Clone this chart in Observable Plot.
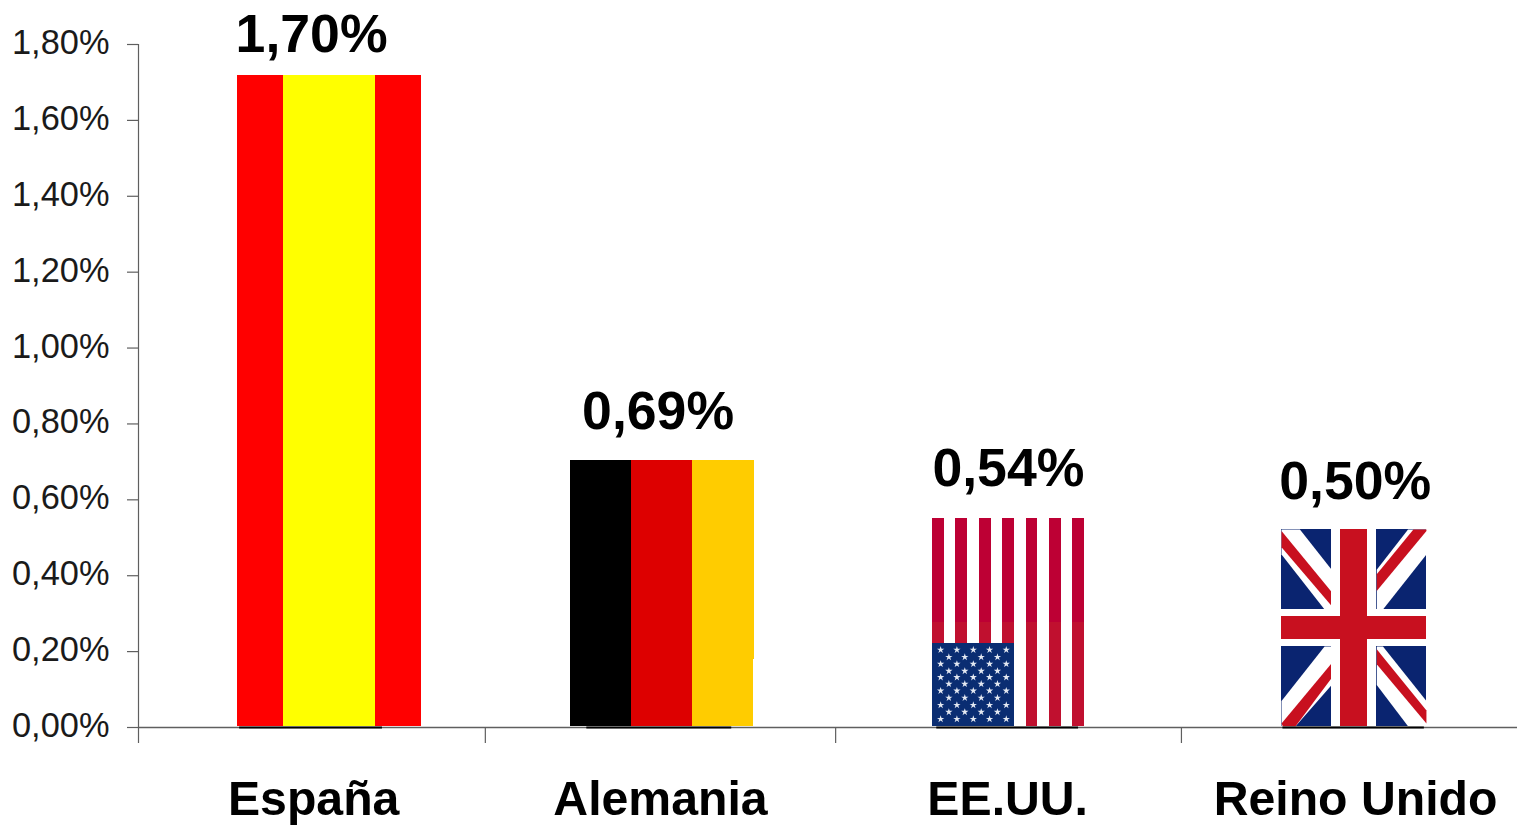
<!DOCTYPE html>
<html lang="es">
<head>
<meta charset="utf-8">
<style>html,body{margin:0;padding:0;background:#fff;overflow:hidden}svg{font-kerning:none}</style>
<script src="https://cdn.jsdelivr.net/npm/d3@7"></script>
<script src="https://cdn.jsdelivr.net/npm/@observablehq/plot@0.6"></script>
</head>
<body>
<div id="chart"></div>
<script>
// Categories and values
const countries = ["España", "Alemania", "EE.UU.", "Reino Unido"];
const values = [1.70, 0.69, 0.54, 0.50];
const yTicks = [0, 0.2, 0.4, 0.6, 0.8, 1.0, 1.2, 1.4, 1.6, 1.8];
const xTicks = [0, 0.998, 2.006, 3.001];

// Position of each category on the band axis (one unit = one category)
const countryCenter = [0.504, 1.502, 2.501, 3.502];
const labelCenter = [0.498, 1.495, 2.503, 3.501];
const labelBase = [1.781, 0.786, 0.636, 0.601];
const flagLeft = [0.285, 1.243, 2.285, 3.289];
const flagRight = [0.814, 1.773, 2.722, 3.706];
const flagTop = [1.718, 0.704, 0.551, 0.522];
const flagBottom = 0.003;
const baseLeft = [0.291, 1.290, 2.297, 3.293];
const baseRight = [0.702, 1.707, 2.705, 3.700];

// Flag designs, in fractions of each flag (u across, v down from top)
const spainStripes = [[0, 0.25, "#ff0000"], [0.25, 0.75, "#ffff00"], [0.75, 1, "#ff0000"]];
const germanyUpper = [[0, 0.334, "#000000"], [0.334, 0.665, "#dd0000"], [0.665, 1, "#ffcc00"]];
const germanyLower = [[0, 0.329, "#000000"], [0.329, 0.660, "#dd0000"], [0.660, 0.995, "#ffcc00"]];
const usaStripeCount = [0, 1, 2, 3, 4, 5, 6, 7, 8, 9, 10, 11, 12];
const usaCanton = {u: 7 / 13, v: 0.6};
const starRows = [0.632, 0.667, 0.700, 0.734, 0.764, 0.796, 0.829, 0.863, 0.898, 0.931, 0.965];
const starColsA = [0.053, 0.160, 0.268, 0.375, 0.485];
const starColsB = [0.107, 0.212, 0.320, 0.427];

const ukBlue = "#0a2470", ukRed = "#c8101f";
const ukPolygons = [
  ["#ffffff", [[0, 0], [0.127, 0], [0.346, 0.205], [0.346, 0.406], [0.297, 0.406], [0, 0.127]]],
  ["#ffffff", [[0.873, 0], [1, 0], [1, 0.127], [0.70, 0.406], [0.657, 0.406], [0.657, 0.205]]],
  ["#ffffff", [[0, 0.871], [0.297, 0.594], [0.346, 0.594], [0.346, 0.79], [0.097, 1], [0, 1]]],
  ["#ffffff", [[0.70, 0.594], [1, 0.871], [1, 1], [0.873, 1], [0.657, 0.79], [0.657, 0.594]]],
  [ukRed, [[0, 0.008], [0.346, 0.318], [0.346, 0.389], [0, 0.09]]],
  [ukRed, [[0.91, 0], [1, 0], [1, 0.008], [0.657, 0.313], [0.657, 0.228]]],
  [ukRed, [[0, 0.986], [0.346, 0.679], [0.346, 0.755], [0.097, 1], [0.009, 1]]],
  [ukRed, [[0.657, 0.609], [1, 0.919], [1, 0.986], [0.657, 0.685]]]
];
const ukCross = [
  ["#ffffff", 0.346, 0.657, 0, 1],
  ["#ffffff", 0, 1, 0.406, 0.594],
  [ukRed, 0.41, 0.59, 0, 1],
  [ukRed, 0, 1, 0.4416, 0.5567]
];

// Helpers that turn flag fractions into chart units
const fx = (i, u) => flagLeft[i] + u * (flagRight[i] - flagLeft[i]);
const fy = (i, v) => flagTop[i] + v * (flagBottom - flagTop[i]);

const cells = [];
const addCell = (i, u1, u2, v1, v2, fill) =>
  cells.push({x1: fx(i, u1), x2: fx(i, u2), y1: fy(i, v2), y2: fy(i, v1), fill});

spainStripes.forEach(([a, b, c]) => addCell(0, a, b, 0, 1, c));
germanyUpper.forEach(([a, b, c]) => addCell(1, a, b, 0, 0.75, c));
germanyLower.forEach(([a, b, c]) => addCell(1, a, b, 0.75, 1, c));
usaStripeCount.filter(s => s % 2 === 0).forEach(s => {
  addCell(2, s / 13, (s + 1) / 13, 0, 0.5, "#bd0034");
  addCell(2, s / 13, (s + 1) / 13, 0.5, 1, "#c0102f");
});
addCell(2, 0, usaCanton.u, usaCanton.v, 1, "#0a2d72");
addCell(3, 0, 1, 0, 1, ukBlue);

const stars = starRows.flatMap((v, r) =>
  (r % 2 === 0 ? starColsA : starColsB).map(u => ({x: fx(2, u), y: fy(2, v)})));

const polygons = ukPolygons.flatMap(([fill, pts], id) =>
  pts.concat([pts[0]]).map(([u, v]) => ({id, fill, x: fx(3, u), y: fy(3, v)})));

const cross = ukCross.map(([fill, u1, u2, v1, v2]) =>
  ({x1: fx(3, u1), x2: fx(3, u2), y1: fy(3, v2), y2: fy(3, v1), fill}));

const pct = d => d3.format(".2f")(d).replace(".", ",") + "%";
const font = "'Liberation Sans', Arial, sans-serif";
const axisColor = "#5f5f5f";

const chart = Plot.plot({
  width: 1517,
  height: 825,
  marginTop: 44,
  marginBottom: 98,
  marginLeft: 138,
  marginRight: 0,
  style: {fontFamily: font, background: "#fff", color: "#000"},
  x: {domain: [0, 3.968], axis: null},
  y: {domain: [0, 1.8], axis: null},
  marks: [
    Plot.rect(cells, {x1: "x1", x2: "x2", y1: "y1", y2: "y2", fill: d => d.fill, shapeRendering: "crispEdges"}),
    Plot.dot(stars, {x: "x", y: "y", symbol: "star", r: 2.3, fill: "#e4e9f2", stroke: "none"}),
    Plot.line(polygons, {x: "x", y: "y", z: "id", fill: d => d.fill, stroke: "none"}),
    Plot.rect(cross, {x1: "x1", x2: "x2", y1: "y1", y2: "y2", fill: d => d.fill, shapeRendering: "crispEdges"}),

    // Axes
    Plot.ruleY([0], {x1: 0, x2: 3.968, stroke: axisColor, strokeWidth: 1.4}),
    Plot.ruleX([0], {y1: 0, y2: 1.8, stroke: axisColor, strokeWidth: 1.2}),
    Plot.axisY({
      ticks: yTicks,
      tickFormat: null,
      text: null,
      tickSize: 11,
      stroke: axisColor,
      strokeWidth: 1.2,
      label: null
    }),
    Plot.axisY({
      ticks: yTicks,
      tickFormat: pct,
      tickSize: 0,
      tickPadding: 29,
      dy: -1.5,
      fontSize: 34.4,
      fill: "#1a1a1a",
      label: null
    }),
    Plot.axisX({
      ticks: xTicks,
      tickFormat: () => "",
      tickSize: 16,
      stroke: axisColor,
      strokeWidth: 1.2,
      label: null
    }),

    // Black base line under each flag
    Plot.ruleY(countries, {
      y: () => 0,
      x1: (d, i) => baseLeft[i],
      x2: (d, i) => baseRight[i],
      stroke: "#000",
      strokeWidth: 2.2
    }),

    // Value labels and category names
    Plot.text(values, {
      x: (d, i) => labelCenter[i],
      y: (d, i) => labelBase[i],
      text: pct,
      fontSize: 53.6,
      fontWeight: "bold",
      lineAnchor: "bottom",
      fill: "#000"
    }),
    Plot.text(countries, {
      x: (d, i) => countryCenter[i],
      y: () => -0.231,
      text: d => d,
      fontSize: 48.2,
      fontWeight: "bold",
      lineAnchor: "bottom",
      fill: "#000"
    })
  ]
});
document.getElementById("chart").appendChild(chart);
</script>
</body>
</html>
